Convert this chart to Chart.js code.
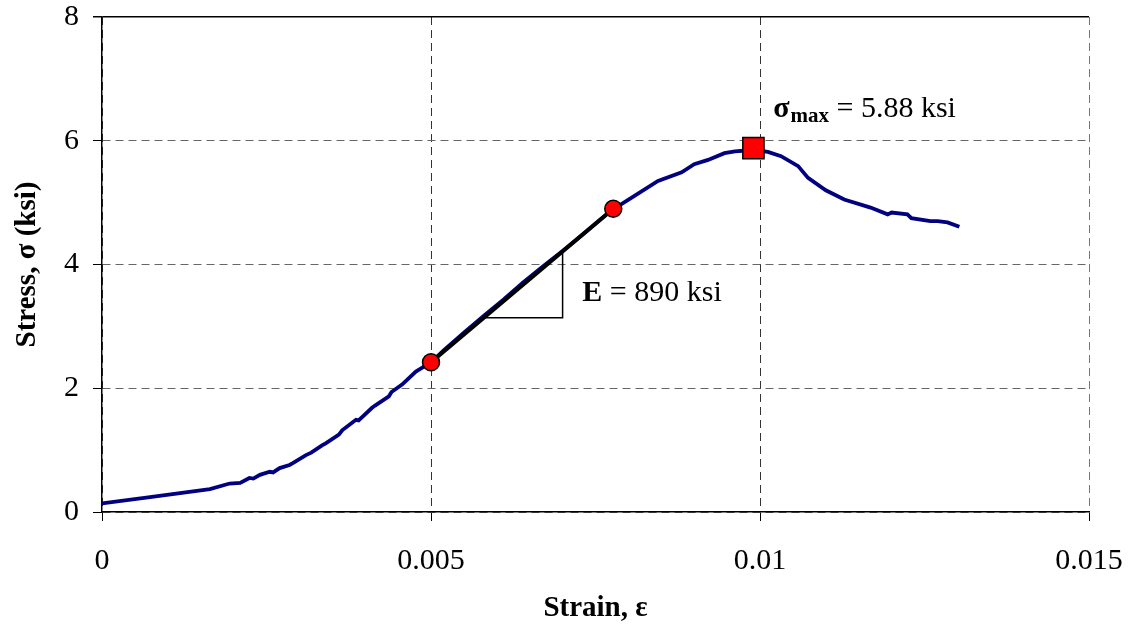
<!DOCTYPE html>
<html>
<head>
<meta charset="utf-8">
<title>Stress-strain curve</title>
<script src="https://cdn.jsdelivr.net/npm/chart.js@4.4.1/dist/chart.umd.min.js"></script>
<style>
  html, body { margin: 0; padding: 0; background: #fff; }
  #wrap { width: 1130px; height: 629px; }
</style>
</head>
<body>
<div id="wrap"><canvas id="chart"></canvas></div>
<script>
// --- DATOS ---
// curva medida (strain, stress en ksi)
const strain = [
  0, 0.00073, 0.00164, 0.00194, 0.0021, 0.00224, 0.0023, 0.0024, 0.00255,
  0.0026, 0.0027, 0.00285, 0.0029, 0.0031, 0.00318, 0.00335, 0.0034,
  0.0036, 0.00365, 0.00386, 0.0039, 0.0041, 0.00415, 0.00436, 0.0044,
  0.00456, 0.0046, 0.00477, 0.005, 0.0052, 0.0055, 0.0058, 0.0061, 0.0064,
  0.0067, 0.007, 0.0073, 0.0076, 0.00777, 0.0079, 0.00805, 0.00845,
  0.00881, 0.009, 0.00921, 0.00946, 0.00962, 0.0099, 0.01012, 0.01032,
  0.01058, 0.01073, 0.011, 0.01128, 0.01168, 0.01194, 0.012, 0.01224,
  0.0123, 0.01259, 0.0127, 0.01285, 0.01303,
];
const stress = [
  0.14, 0.24, 0.37, 0.46, 0.47, 0.55, 0.54, 0.6, 0.65,
  0.64, 0.71, 0.76, 0.79, 0.92, 0.96, 1.08, 1.11,
  1.25, 1.32, 1.49, 1.48, 1.68, 1.72, 1.87, 1.94,
  2.06, 2.1, 2.27, 2.42, 2.62, 2.9, 3.17, 3.43, 3.71,
  3.97, 4.22, 4.48, 4.75, 4.9, 4.98, 5.08, 5.35,
  5.49, 5.62, 5.69, 5.8, 5.83, 5.85, 5.82, 5.75,
  5.59, 5.4, 5.2, 5.05, 4.92, 4.81, 4.84, 4.81,
  4.75, 4.7, 4.7, 4.68, 4.61,
];

// puntos del ajuste lineal (E = 890 ksi)
const fitStrain = [0.005, 0.00777];
const fitStress = [2.42, 4.9];

// triangulo de pendiente
const triStrain = [0.0058, 0.007, 0.007];
const triStress = [3.14, 3.14, 4.2];

// esfuerzo maximo
const peakStrain = [0.0099];
const peakStress = [5.88];

// ejes
const xTicks = [0, 0.005, 0.01, 0.015];
const xTickLabels = ["0", "0.005", "0.01", "0.015"];
const yTicks = [0, 2, 4, 6, 8];
const yTickLabels = ["0", "2", "4", "6", "8"];

// anclas de los textos (coordenadas de datos)
const peakLabelAt = { x: 0.0102, y: 6.38 };
const modLabelAt = { x: 0.0073, y: 3.41 };

const toPoints = (xs, ys) => xs.map((x, i) => ({ x, y: ys[i] }));

const SERIF = "'Liberation Serif', 'Times New Roman', serif";

// --- TEXTOS DE ANOTACION ---
const labelsPlugin = {
  id: "labels",
  afterDatasetsDraw(chart) {
    const { ctx, scales } = chart;
    ctx.save();
    ctx.fillStyle = "#000";
    ctx.textBaseline = "alphabetic";
    ctx.textAlign = "left";

    // sigma_max = 5.88 ksi
    let x = scales.x.getPixelForValue(peakLabelAt.x);
    const y = scales.y.getPixelForValue(peakLabelAt.y);
    ctx.font = "bold 30px " + SERIF;
    ctx.fillText("σ", x, y);
    x += ctx.measureText("σ").width + 1;
    ctx.font = "bold 21px " + SERIF;
    ctx.fillText("max", x, y + 5);
    x += ctx.measureText("max").width;
    ctx.font = "30px " + SERIF;
    ctx.fillText(" = 5.88 ksi", x, y);

    // E = 890 ksi
    let x2 = scales.x.getPixelForValue(modLabelAt.x);
    const y2 = scales.y.getPixelForValue(modLabelAt.y);
    ctx.font = "bold 30px " + SERIF;
    ctx.fillText("E", x2, y2);
    x2 += ctx.measureText("E").width;
    ctx.font = "30px " + SERIF;
    ctx.fillText(" = 890 ksi", x2, y2);
    ctx.restore();
  },
};

// --- GRAFICO ---
new Chart(document.getElementById("chart"), {
  type: "scatter",
  data: {
    datasets: [
      {
        label: "curve",
        data: toPoints(strain, stress),
        showLine: true,
        borderColor: "#000080",
        borderWidth: 3.8,
        pointRadius: 0,
        tension: 0,
        order: 4,
      },
      {
        label: "fit",
        data: toPoints(fitStrain, fitStress),
        showLine: true,
        borderColor: "#000",
        borderWidth: 4,
        pointRadius: 0,
        order: 3,
      },
      {
        label: "triangle",
        data: toPoints(triStrain, triStress),
        showLine: true,
        borderColor: "#000",
        borderWidth: 1.5,
        pointRadius: 0,
        order: 3,
      },
      {
        label: "fit points",
        data: toPoints(fitStrain, fitStress),
        showLine: false,
        pointRadius: 8.5,
        pointBackgroundColor: "#ff0000",
        pointBorderColor: "#000",
        pointBorderWidth: 1.5,
        order: 1,
      },
      {
        label: "peak",
        data: toPoints(peakStrain, peakStress),
        showLine: false,
        pointStyle: "rect",
        pointRadius: 15,
        pointBackgroundColor: "#ff0000",
        pointBorderColor: "#000",
        pointBorderWidth: 1.5,
        order: 0,
      },
    ],
  },
  options: {
    responsive: true,
    maintainAspectRatio: false,
    animation: false,
    events: [],
    layout: { padding: { top: 17, right: 41, left: 0, bottom: 0 } },
    plugins: {
      legend: { display: false },
      tooltip: { enabled: false },
    },
    scales: {
      x: {
        type: "linear",
        min: 0,
        max: 0.015,
        afterBuildTicks: (s) => {
          s.ticks = xTicks.map((v) => ({ value: v }));
        },
        afterFit: (s) => {
          s.height = 117;
          s.paddingLeft = 0;
          s.paddingRight = 0;
        },
        ticks: {
          maxRotation: 0,
          autoSkip: false,
          padding: 22,
          color: "#000",
          font: { family: SERIF, size: 30 },
          callback: (v) => xTickLabels[xTicks.indexOf(v)] ?? "",
        },
        grid: {
          color: (c) => (c.tick && c.tick.value === 0.015 ? "#777" : "#333"),
          lineWidth: 1,
          tickLength: 9,
          tickColor: "#000",
        },
        border: {
          display: true,
          color: "#000",
          width: 1.5,
          dash: [8, 5],
        },
        title: {
          display: true,
          text: "Strain, ε",
          color: "#000",
          font: { family: SERIF, size: 29, weight: "bold" },
          padding: { top: 0, bottom: 3 },
        },
      },
      y: {
        type: "linear",
        min: 0,
        max: 8,
        afterBuildTicks: (s) => {
          s.ticks = yTicks.map((v) => ({ value: v }));
        },
        afterFit: (s) => {
          s.width = 102;
          s.paddingTop = 0;
          s.paddingBottom = 0;
        },
        ticks: {
          autoSkip: false,
          padding: 14,
          color: "#000",
          font: { family: SERIF, size: 30 },
          callback: (v) => yTickLabels[yTicks.indexOf(v)] ?? "",
        },
        grid: {
          color: (c) => (c.tick && c.tick.value === 8 ? "#000" : "#666"),
          lineWidth: (c) => (c.tick && c.tick.value === 8 ? 1.5 : 1),
          tickLength: 9,
          tickColor: "#000",
        },
        border: {
          display: true,
          color: "#000",
          width: 1.5,
          dash: (c) => (c.tick && c.tick.value === 8 ? [] : [8, 5]),
        },
        title: {
          display: true,
          text: "Stress, σ (ksi)",
          color: "#000",
          font: { family: SERIF, size: 29, weight: "bold" },
          padding: { top: 10, bottom: 0 },
        },
      },
    },
  },
  plugins: [labelsPlugin],
});
</script>
</body>
</html>
